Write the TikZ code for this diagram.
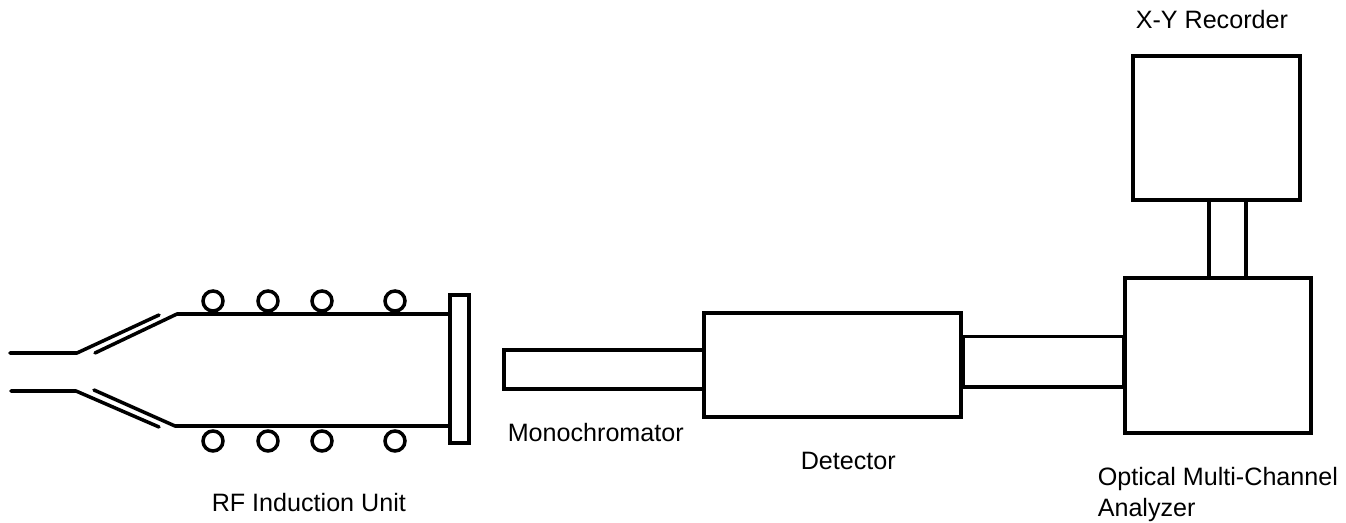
\documentclass[tikz,border=0pt]{standalone}
\usepackage{fontspec}
\setmainfont{Liberation Sans}
\usepackage{tikz}
\tikzset{
  unit/.style={draw,rectangle,inner sep=0pt},
  coil/.style={draw,circle,inner sep=0pt,minimum size=0.2cm},
  tube/.style={line cap=round,line join=round},
  caption/.style={inner sep=0pt,anchor=base west,font=\fontsize{7.15}{8.8}\selectfont}
}
\begin{document}
\begin{tikzpicture}[line width=1pt]
        \useasboundingbox (0,0) rectangle (13.46,5.23);
        % recorder and analyzer
        \node[unit,minimum width=1.67cm,minimum height=1.44cm] (recorder) at (12.165,3.95) {};
        \node[unit,minimum width=1.86cm,minimum height=1.55cm] (analyzer) at (12.18,1.675) {};
        \draw (12.09,0 |- recorder.south) -- (12.09,0 |- analyzer.north);
        \draw (12.46,0 |- recorder.south) -- (12.46,0 |- analyzer.north);
        % detector and monochromator
        \node[unit,minimum width=2.57cm,minimum height=1.04cm] (detector) at (8.325,1.58) {};
        \node[unit,minimum width=2.00cm,minimum height=0.39cm] (mono) at (6.04,1.535) {};
        \node[unit,minimum width=1.605cm,minimum height=0.505cm] (cable) at (10.43,1.6125) {};
        % flange
        \node[unit,minimum width=0.19cm,minimum height=1.48cm] (flange) at (4.595,1.54) {};
        % tube
        \coordinate (ua) at (0.10,1.70);
        \coordinate (ub) at (0.77,1.70);
        \coordinate (uc) at (1.59,2.08);
        \coordinate (ud) at (0.95,1.70);
        \coordinate (ue) at (1.77,2.09);
        \coordinate (la) at (0.11,1.32);
        \coordinate (lb) at (0.76,1.32);
        \coordinate (lc) at (1.59,0.96);
        \coordinate (ld) at (0.94,1.33);
        \coordinate (le) at (1.75,0.97);
        \draw[tube] (ua) -- (ub) -- (uc);
        \draw[tube] (ud) -- (ue) -- (flange.west |- ue);
        \draw[tube] (la) -- (lb) -- (lc);
        \draw[tube] (ld) -- (le) -- (flange.west |- le);
        % coils
        \foreach \x [count=\i] in {2.13,2.68,3.22,3.95} {
          \node[coil] (top\i) at (\x,2.22) {};
          \node[coil] (bot\i) at (\x,0.82) {};
        }
        % labels
        \node[caption] (xylabel) at (11.34,4.94) {X-Y Recorder};
        \node[caption] (monolabel) at (5.06,0.81) {Monochromator};
        \node[caption] (detlabel) at (7.99,0.53) {Detector};
        \node[caption] (rflabel) at (2.10,0.11) {RF Induction Unit};
        \node[caption] (omalabel) at (10.96,0.37) {Optical Multi-Channel};
        \node[caption] (analabel) at (10.96,0.06) {Analyzer};
      \end{tikzpicture}
\end{document}
